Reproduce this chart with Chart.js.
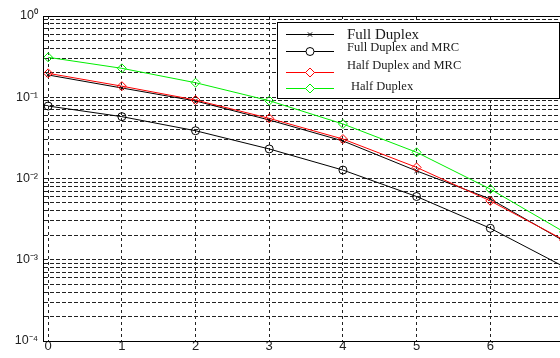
<!DOCTYPE html>
<html>
<head>
<meta charset="utf-8">
<script src="https://cdn.jsdelivr.net/npm/chart.js@4.4.0/dist/chart.umd.min.js"></script>
<style>
  html, body { margin: 0; padding: 0; background: #fff; width: 560px; height: 358px; overflow: hidden; }
  #wrap { position: absolute; left: 0; top: 0; width: 600px; height: 358px; }
</style>
</head>
<body>
<div id="wrap"><canvas id="c" width="600" height="358"></canvas></div>
<script>
// x positions (0..7)
const xValues = [0, 1, 2, 3, 4, 5, 6, 7];

// error probability per scheme
const fullDuplex       = [0.188, 0.130, 0.090, 0.0525, 0.029, 0.0124, 0.0056, 0.0017];
const fullDuplexMRC    = [0.078, 0.0577, 0.0387, 0.0231, 0.0127, 0.0060, 0.00244, 0.00082];
const halfDuplexMRC    = [0.197, 0.137, 0.0925, 0.055, 0.0306, 0.0137, 0.0053, 0.00175];
const halfDuplex       = [0.31, 0.227, 0.151, 0.0907, 0.0469, 0.021, 0.0074, 0.0022];

const seriesNames = ['Full Duplex', 'Full Duplex and MRC', 'Half Duplex and MRC', 'Half Duplex'];

// axis ticks
const xTicks = [0, 1, 2, 3, 4, 5, 6, 7];
const yDecades = [1e-4, 1e-3, 1e-2, 1e-1, 1];
const yDecadeLabels = ['10\u207B\u2074', '10\u207B\u00B3', '10\u207B\u00B2', '10\u207B\u00B9', '10\u2070'];

const toPoints = (arr) => arr.map((v, i) => ({ x: xValues[i], y: v }));

function yTickValues() {
  const out = [];
  for (let d = 0; d < yDecades.length - 1; d++) {
    for (let m = 1; m <= 9; m++) out.push(m * yDecades[d]);
  }
  out.push(yDecades[yDecades.length - 1]);
  return out;
}

// solid frame round the plotting area
const framePlugin = {
  id: 'frame',
  afterDatasetsDraw(chart) {
    const { ctx, chartArea: a } = chart;
    ctx.save();
    ctx.strokeStyle = '#000';
    ctx.lineWidth = 1;
    ctx.strokeRect(Math.round(a.left) + 0.5, Math.round(a.top) + 0.5,
                   Math.round(a.right - a.left), Math.round(a.bottom - a.top));
    ctx.restore();
  }
};

// boxed legend in the upper right corner
const legendRows = [
  { name: seriesNames[0], color: '#000',    style: 'crossRot', radius: 3,   lineY: 34, textY: 35, font: '15px "Liberation Serif", "Times New Roman", serif' },
  { name: seriesNames[1], color: '#000',    style: 'circle',   radius: 4,   lineY: 51, textY: 48, font: '12.5px "Liberation Serif", "Times New Roman", serif' },
  { name: seriesNames[2], color: '#ff0000', style: 'rectRot',  radius: 4.5, lineY: 72, textY: 66, font: '12.5px "Liberation Serif", "Times New Roman", serif' },
  { name: seriesNames[3], color: '#00ee00', style: 'rectRot',  radius: 4.5, lineY: 88, textY: 87, font: '12.5px "Liberation Serif", "Times New Roman", serif', dx: 4 }
];

const legendPlugin = {
  id: 'boxLegend',
  afterDraw(chart) {
    const ctx = chart.ctx;
    ctx.save();
    ctx.fillStyle = '#fff';
    ctx.fillRect(277.5, 22.5, 282, 76);
    ctx.strokeStyle = '#000';
    ctx.lineWidth = 1;
    ctx.strokeRect(277.5, 22.5, 282, 76);
    legendRows.forEach(r => {
      ctx.strokeStyle = r.color;
      ctx.lineWidth = 1;
      ctx.beginPath();
      ctx.moveTo(286, r.lineY + 0.5);
      ctx.lineTo(334, r.lineY + 0.5);
      ctx.stroke();
      ctx.fillStyle = '#fff';
      Chart.helpers.drawPoint(ctx, { pointStyle: r.style, radius: r.radius, rotation: 0, borderWidth: 1 }, 310, r.lineY + 0.5);
      ctx.fillStyle = '#1a1a1a';
      ctx.font = r.font;
      ctx.textAlign = 'left';
      ctx.textBaseline = 'middle';
      ctx.fillText(r.name, 347 + (r.dx || 0), r.textY);
    });
    ctx.restore();
  }
};

const common = { borderWidth: 1, pointBorderWidth: 1, pointBackgroundColor: 'rgba(0,0,0,0)', tension: 0, fill: false };

new Chart(document.getElementById('c'), {
  type: 'line',
  data: {
    datasets: [
      { ...common, label: seriesNames[0], data: toPoints(fullDuplex), borderColor: '#000', pointBorderColor: '#000',
        pointStyle: 'crossRot', pointRadius: 3, order: 4 },
      { ...common, label: seriesNames[1], data: toPoints(fullDuplexMRC), borderColor: '#000', pointBorderColor: '#000',
        pointStyle: 'circle', pointRadius: 4, order: 3 },
      { ...common, label: seriesNames[2], data: toPoints(halfDuplexMRC), borderColor: '#ff0000', pointBorderColor: '#ff0000',
        pointStyle: 'rectRot', pointRadius: 4.5, order: 2 },
      { ...common, label: seriesNames[3], data: toPoints(halfDuplex), borderColor: '#00ee00', pointBorderColor: '#00ee00',
        pointStyle: 'rectRot', pointRadius: 4.5, order: 1 }
    ]
  },
  options: {
    responsive: false,
    animation: false,
    devicePixelRatio: 1,
    layout: { padding: { top: 16, right: 36, left: 0, bottom: 0 } },
    plugins: { legend: { display: false }, tooltip: { enabled: false } },
    scales: {
      x: {
        type: 'linear',
        min: -0.07,
        max: 7,
        afterBuildTicks: (s) => { s.ticks = xTicks.map(v => ({ value: v })); },
        afterFit: (s) => { s.height = 17; },
        grid: { color: '#222', lineWidth: 1, drawTicks: false },
        border: { display: true, color: '#000', width: 1, dash: [3, 3] },
        ticks: {
          autoSkip: false, maxRotation: 0, padding: -2, color: '#222',
          font: { family: '"Liberation Sans", Arial, sans-serif', size: 13 },
          callback: (v) => String(v)
        }
      },
      y: {
        type: 'logarithmic',
        min: 1e-4,
        max: 1,
        afterBuildTicks: (s) => { s.ticks = yTickValues().map(v => ({ value: v })); },
        afterFit: (s) => { s.width = 43; },
        grid: { color: '#222', lineWidth: 1, drawTicks: false },
        border: { display: true, color: '#000', width: 1, dash: [4, 2] },
        ticks: {
          autoSkip: false, padding: 5, color: '#222',
          font: { family: '"Liberation Sans", Arial, sans-serif', size: 12.5 },
          callback: (v) => {
            const i = yDecades.findIndex(d => Math.abs(Math.log10(v) - Math.log10(d)) < 1e-9);
            return i >= 0 ? yDecadeLabels[i] : '';
          }
        }
      }
    }
  },
  plugins: [framePlugin, legendPlugin]
});
</script>
</body>
</html>
